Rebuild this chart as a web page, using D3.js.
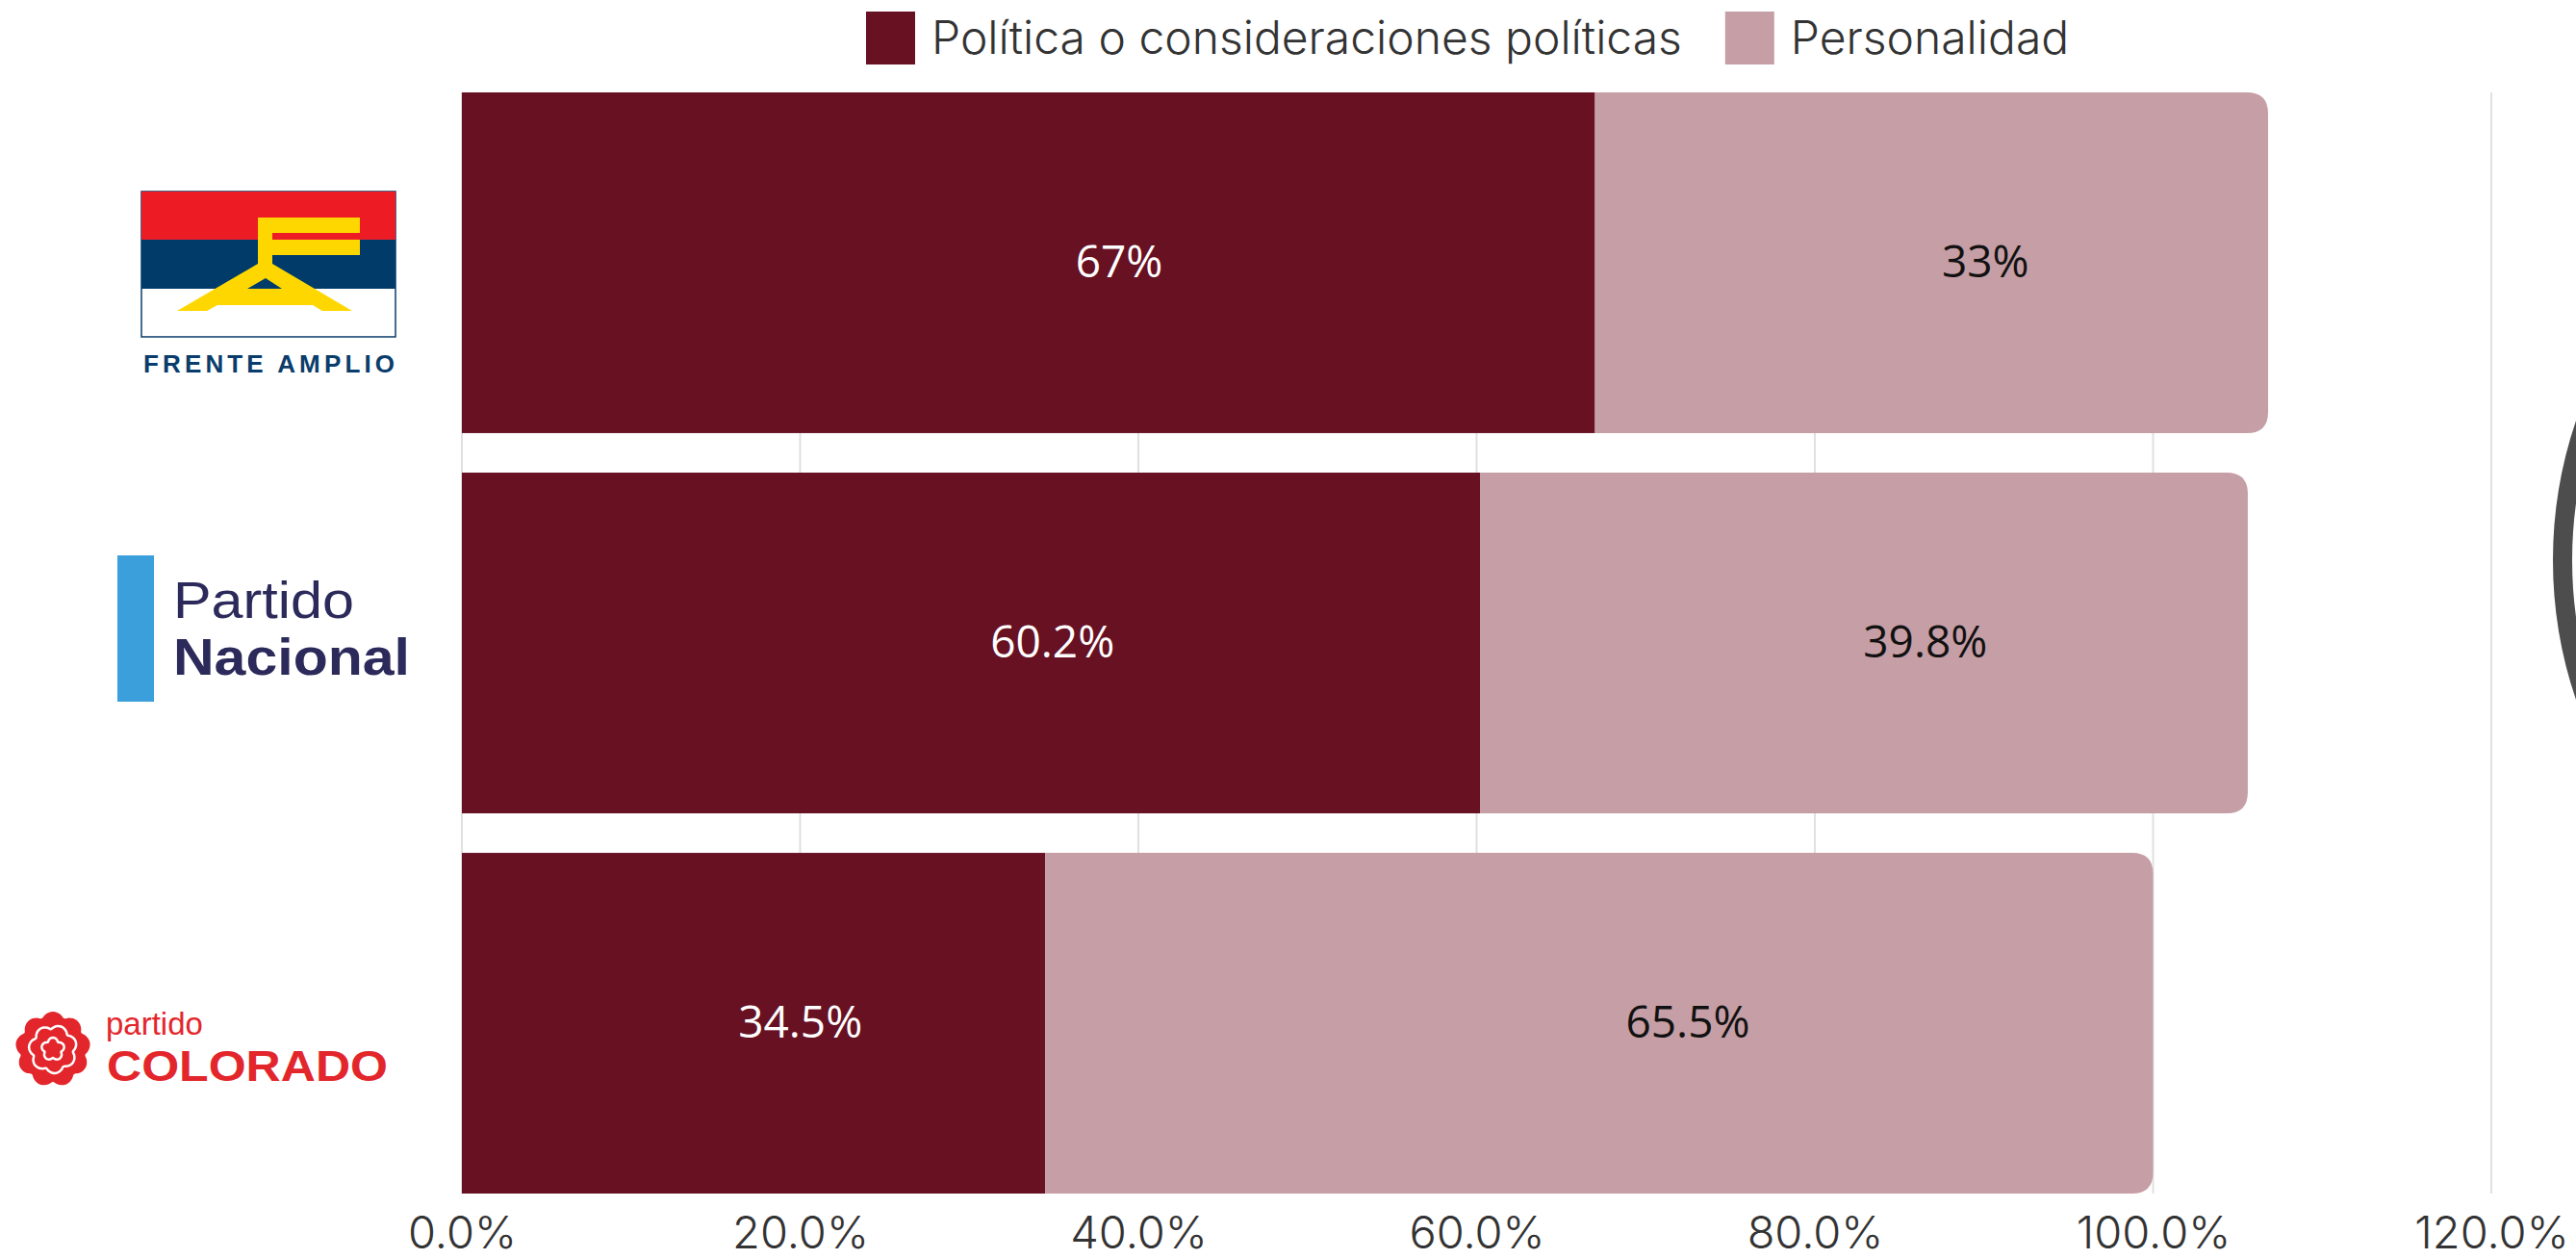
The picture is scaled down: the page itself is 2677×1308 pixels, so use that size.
<!DOCTYPE html>
<html>
<head>
<meta charset="utf-8">
<script src="https://cdn.jsdelivr.net/npm/d3@7"></script>
<style>
  body { margin: 0; background: #fff; }
  svg { display: block; }
</style>
</head>
<body>
<script>
//Chart data
var parties = ["Frente Amplio", "Partido Nacional", "Partido Colorado"];
var seriesNames = ["Política o consideraciones políticas", "Personalidad"];
var politica = [67, 60.2, 34.5];
var personalidad = [39.8, 45.4, 65.5];   //drawn lengths of the light bars
var politicaLabels = ["67%", "60.2%", "34.5%"];
var personalidadLabels = ["33%", "39.8%", "65.5%"];
var xTicks = [0, 20, 40, 60, 80, 100, 120];

var colors = ["#671123", "#c69ea5"];

//Width and height
var w = 2677;
var h = 1308;
var plotTop = 96, plotBottom = 1240, plotLeft = 480, plotRight = 2589;

var svg = d3.select("body")
            .append("svg")
            .attr("width", w)
            .attr("height", h);

var x = d3.scaleLinear()
            .domain([0, 120])
            .range([plotLeft, plotRight]);

var y = d3.scaleBand()
            .domain(parties)
            .range([plotTop, plotBottom])
            .paddingInner(0.104)
            .paddingOuter(0);

//Gridlines
svg.append("g")
    .selectAll("line")
    .data(xTicks)
    .enter()
    .append("line")
    .attr("x1", function(d) { return x(d); })
    .attr("x2", function(d) { return x(d); })
    .attr("y1", plotTop)
    .attr("y2", plotBottom)
    .style("stroke", "#e0e0e0")
    .style("stroke-width", 2);

//X axis
var xAxis = svg.append("g")
    .attr("transform", "translate(0," + plotBottom + ")")
    .call(d3.axisBottom(x)
        .tickValues(xTicks)
        .tickSize(0)
        .tickPadding(24)
        .tickFormat(function(d) { return d.toFixed(1) + "%"; }));

xAxis.select(".domain").remove();
xAxis.selectAll("text")
    .style("font-family", "Inter, 'Open Sans', sans-serif")
    .style("font-weight", 300)
    .style("font-size", "47px")
    .style("fill", "#333");

//Stack the two series
var rows = parties.map(function(p, i) {
    return { party: p, a: politica[i], b: personalidad[i], la: politicaLabels[i], lb: personalidadLabels[i] };
});

//Path for a bar rounded on the right side only
function rightRounded(x0, y0, x1, y1, r) {
    return "M" + x0 + "," + y0 +
           "H" + (x1 - r) +
           "Q" + x1 + "," + y0 + " " + x1 + "," + (y0 + r) +
           "V" + (y1 - r) +
           "Q" + x1 + "," + y1 + " " + (x1 - r) + "," + y1 +
           "H" + x0 + "Z";
}

var bars = svg.append("g")
    .selectAll("g")
    .data(rows)
    .enter()
    .append("g");

bars.append("rect")
    .attr("x", x(0))
    .attr("y", function(d) { return y(d.party); })
    .attr("width", function(d) { return x(d.a) - x(0); })
    .attr("height", y.bandwidth())
    .style("fill", colors[0]);

bars.append("path")
    .attr("d", function(d) {
        return rightRounded(x(d.a), y(d.party), x(d.a + d.b), y(d.party) + y.bandwidth(), 22);
    })
    .style("fill", colors[1]);

//Value labels
var labelPos = 0.58;

bars.append("text")
    .attr("x", function(d) { return x(d.a * labelPos); })
    .attr("y", function(d) { return y(d.party) + y.bandwidth() / 2; })
    .attr("dy", "0.33em")
    .attr("text-anchor", "middle")
    .style("font-family", "'Open Sans', sans-serif")
    .style("font-size", "46px")
    .style("fill", "#fff")
    .text(function(d) { return d.la; });

bars.append("text")
    .attr("x", function(d) { return x(d.a + d.b * labelPos); })
    .attr("y", function(d) { return y(d.party) + y.bandwidth() / 2; })
    .attr("dy", "0.33em")
    .attr("text-anchor", "middle")
    .style("font-family", "'Open Sans', sans-serif")
    .style("font-size", "46px")
    .style("fill", "#111")
    .text(function(d) { return d.lb; });

//Legend
var legend = svg.append("g").attr("transform", "translate(900,0)");
var lx = 0;
seriesNames.forEach(function(name, i) {
    var item = legend.append("g").attr("transform", "translate(" + lx + ",0)");
    item.append("rect")
        .attr("x", 0)
        .attr("y", 12)
        .attr("width", 51)
        .attr("height", 55)
        .style("fill", colors[i]);
    var t = item.append("text")
        .attr("x", 68)
        .attr("y", 56)
        .style("font-family", "Inter, 'Open Sans', sans-serif")
        .style("font-weight", 300)
        .style("font-size", "48px")
        .style("fill", "#333")
        .text(name);
    lx += 68 + t.node().getComputedTextLength() + 45;
});

//Party logos as category labels
var logos = svg.append("g");

function bandMid(p) { return y(p) + y.bandwidth() / 2; }

//Frente Amplio
var fa = logos.append("g")
    .attr("transform", "translate(0," + bandMid(parties[0]) + ")");

fa.append("rect").attr("x", 147).attr("y", -74).attr("width", 264).attr("height", 151)
    .style("fill", "#fff").style("stroke", "#0a3d6b").style("stroke-width", 1.5);
fa.append("rect").attr("x", 147).attr("y", -74).attr("width", 264).attr("height", 50)
    .style("fill", "#ed1c24");
fa.append("rect").attr("x", 147).attr("y", -24).attr("width", 264).attr("height", 51)
    .style("fill", "#003b6a");

//yellow F
fa.append("path")
    .attr("d", "M268,-47H374V-31H283V-24H374V-8H283V1H268Z")
    .style("fill", "#ffd700");
//yellow A with its hole
fa.append("path")
    .attr("d", "M268,1L184,50H215L226,44H325L335,50H366L283,1Z M257,27L276,16L293,27Z")
    .attr("fill-rule", "evenodd")
    .style("fill", "#ffd700");

fa.append("text")
    .attr("x", 149)
    .attr("y", 114)
    .attr("textLength", 261)
    .attr("lengthAdjust", "spacing")
    .style("font-family", "'Liberation Sans', Arial, sans-serif")
    .style("font-weight", "bold")
    .style("font-size", "26px")
    .style("fill", "#0a3d6b")
    .text("FRENTE AMPLIO");

//Partido Nacional
var pn = logos.append("g")
    .attr("transform", "translate(0," + bandMid(parties[1]) + ")");

pn.append("rect").attr("x", 122).attr("y", -91).attr("width", 38).attr("height", 152)
    .style("fill", "#3a9fdb");
pn.append("text")
    .attr("x", 180)
    .attr("y", -26)
    .attr("textLength", 188)
    .attr("lengthAdjust", "spacingAndGlyphs")
    .style("font-family", "'Liberation Sans', Arial, sans-serif")
    .style("font-size", "53px")
    .style("fill", "#2b2a5a")
    .text("Partido");
pn.append("text")
    .attr("x", 180)
    .attr("y", 33)
    .attr("textLength", 246)
    .attr("lengthAdjust", "spacingAndGlyphs")
    .style("font-family", "'Liberation Sans', Arial, sans-serif")
    .style("font-weight", "bold")
    .style("font-size", "53px")
    .style("fill", "#2b2a5a")
    .text("Nacional");

//Partido Colorado
var pc = logos.append("g")
    .attr("transform", "translate(0," + bandMid(parties[2]) + ")");

var red = "#e3262b";

function scallop(R, amp, n) {
    var pts = d3.range(n * 6).map(function(i) {
        var a = i / (n * 6) * 2 * Math.PI;
        return [a, R + amp * Math.abs(Math.cos(a * n / 2))];
    });
    return d3.lineRadial().curve(d3.curveCardinalClosed)(pts);
}

var flower = pc.append("g").attr("transform", "translate(55,27)");
flower.append("path").attr("d", scallop(34, 5, 9)).style("fill", red);
flower.append("path").attr("d", scallop(21, 4, 7))
    .attr("transform", "rotate(20)")
    .style("fill", "none").style("stroke", "#fff").style("stroke-width", 2.5);
flower.append("path").attr("d", scallop(9, 3, 5))
    .style("fill", "none").style("stroke", "#fff").style("stroke-width", 2.5);

pc.append("text")
    .attr("x", 110)
    .attr("y", 12)
    .style("font-family", "'Liberation Sans', Arial, sans-serif")
    .style("font-size", "33px")
    .style("fill", red)
    .text("partido");
pc.append("text")
    .attr("x", 111)
    .attr("y", 60)
    .attr("textLength", 292)
    .attr("lengthAdjust", "spacingAndGlyphs")
    .style("font-family", "'Liberation Sans', Arial, sans-serif")
    .style("font-weight", "bold")
    .style("font-size", "45px")
    .style("fill", red)
    .text("COLORADO");

//Cropped logo ring at the right edge
svg.append("circle")
    .attr("cx", 3103)
    .attr("cy", 582)
    .attr("r", 440)
    .style("fill", "none")
    .style("stroke", "#4d4d4d")
    .style("stroke-width", 20);
</script>
</body>
</html>
